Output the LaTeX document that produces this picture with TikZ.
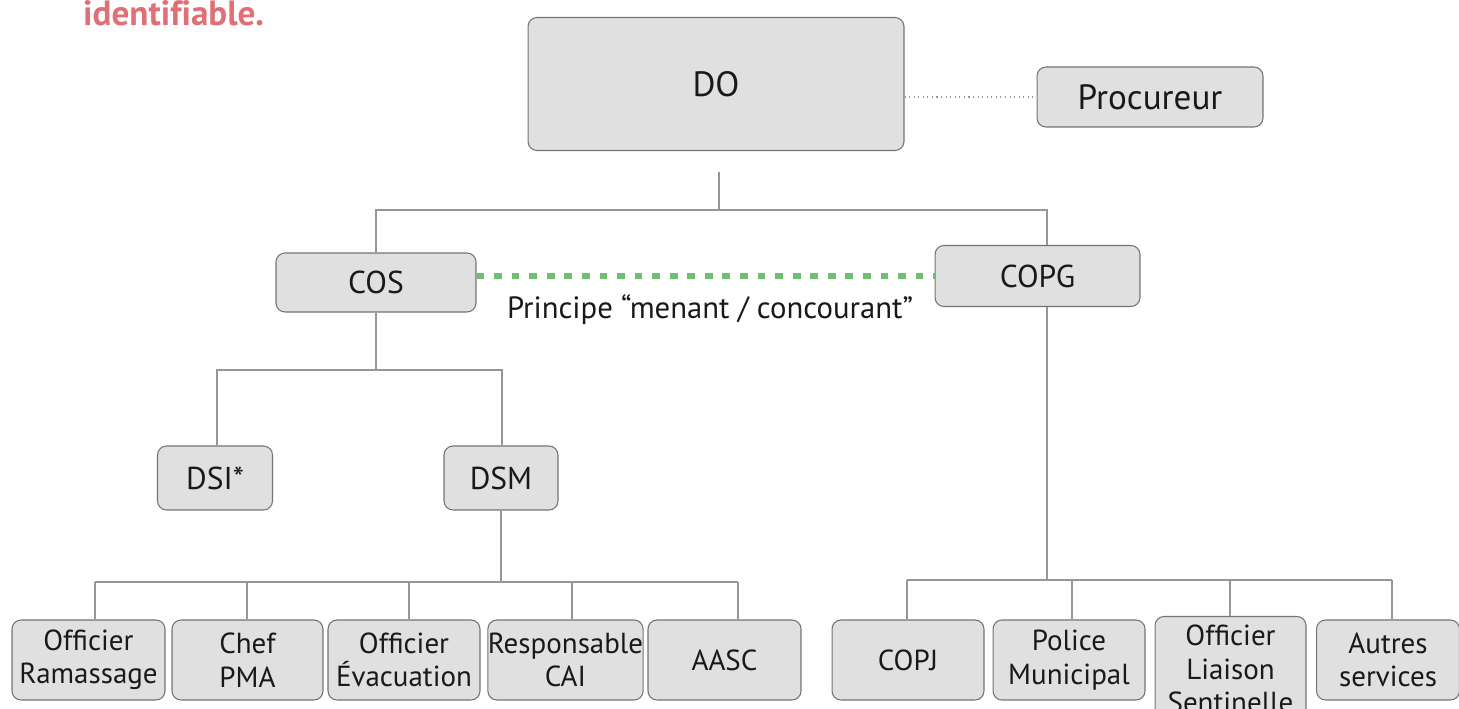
\documentclass[tikz,border=0pt]{standalone}
\usepackage{fontspec}
\setmainfont{PT Sans}
\usetikzlibrary{calc}
\definecolor{boxfill}{RGB}{224,224,224}
\definecolor{boxline}{RGB}{115,115,115}
\definecolor{linkgray}{RGB}{150,150,150}
\definecolor{menant}{RGB}{112,190,112}
\definecolor{titlered}{RGB}{224,112,118}
\begin{document}
\begin{tikzpicture}[x=0.02cm,y=-0.02cm,
  box/.style={draw=boxline,fill=boxfill,line width=0.6pt,rounded corners=0.18cm,
    align=center,inner sep=0pt,font=\fontsize{16.5}{19}\selectfont},
  topfont/.style={font=\fontsize{20}{22}\selectfont},
  midfont/.style={font=\fontsize{18}{20}\selectfont},
  link/.style={draw=linkgray,line width=0.6pt},
  every node/.style={text=black!90}]
\useasboundingbox (0,0) rectangle (1459,709);
\clip (0,0) rectangle (1459,709);

% heading fragment
\node[anchor=base west,text=titlered,
  font=\fontsize{20}{22}\selectfont\bfseries\addfontfeatures{Ligatures=NoCommon}] (head) at (77,26) {identifiable.};

% top level
\node[box,topfont,minimum width=7.52cm,minimum height=2.66cm] (DO) at (716,84) {DO};
\node[box,topfont,minimum width=4.52cm,minimum height=1.2cm] (PR) at (1150,97) {Procureur};
\draw[link,dotted] (DO.east |- PR.west) -- (PR.west);

% commanders
\node[box,midfont,minimum width=4.0cm,minimum height=1.18cm] (COS) at (376,282.5) {COS};
\node[box,midfont,minimum width=4.1cm,minimum height=1.22cm] (COPG) at (1037.5,276) {COPG};

\coordinate (t0) at (719,172);
\coordinate (t1) at (719,210);
\coordinate (cx) at (1047,0);
\draw[link] (t0) -- (t1);
\draw[link] (COS.north) |- (t1) -| (COPG.north -| cx);

\coordinate (gl) at (0,276);
\draw[menant,line width=3.4pt,dash pattern=on 4.4pt off 5.6pt] (COS.east |- gl) -- (COPG.west |- gl);
\node[font=\fontsize{17.5}{20}\selectfont] (lab) at (710,310) {Principe “menant / concourant”};

% COS branch
\node[box,midfont,minimum width=2.3cm,minimum height=1.28cm] (DSI) at (215,478) {DSI*};
\node[box,midfont,minimum width=2.28cm,minimum height=1.28cm] (DSM) at (501,478) {DSM};
\coordinate (s1) at (376,370);
\draw[link] (COS.south) -- (s1);
\draw[link] (DSI.north -| 217,0) |- (s1) -| (DSM.north -| 502,0);

% DSM children
\node[box,minimum width=3.06cm,minimum height=1.6cm] (r1) at (88.5,660) {Officier\\Ramassage};
\node[box,minimum width=3.02cm,minimum height=1.6cm] (r2) at (247.5,660) {Chef\\PMA};
\node[box,minimum width=3.04cm,minimum height=1.6cm] (r3) at (404,660) {Officier\\Évacuation};
\node[box,minimum width=3.02cm,minimum height=1.6cm] (r4) at (565.5,660) {Responsable\\CAI};
\node[box,minimum width=3.06cm,minimum height=1.6cm] (r5) at (724.5,660) {AASC};

\coordinate (m0) at (501,582);
\coordinate (b1) at (95,582);
\coordinate (b2) at (247,582);
\coordinate (b3) at (409,582);
\coordinate (b4) at (572,582);
\coordinate (b5) at (738,582);
\draw[link] (DSM.south) -- (m0);
\draw[link] (b1) -- (b5);
\draw[link] (b1) -- (b1 |- r1.north);
\draw[link] (b2) -- (b2 |- r2.north);
\draw[link] (b3) -- (b3 |- r3.north);
\draw[link] (b4) -- (b4 |- r4.north);
\draw[link] (b5) -- (b5 |- r5.north);

% COPG children
\node[box,minimum width=3.04cm,minimum height=1.6cm] (c1) at (908,660) {COPJ};
\node[box,minimum width=3.04cm,minimum height=1.6cm] (c2) at (1069,660) {Police\\Municipal};
\node[box,minimum width=3.02cm,minimum height=2.1cm,text depth=0pt] (c3) at (1230.5,669) {Officier\\Liaison\\Sentinelle};
\node[box,minimum width=2.86cm,minimum height=1.6cm] (c4) at (1388,660) {Autres\\services};

\coordinate (p0) at (1047,580);
\coordinate (q1) at (907,580);
\coordinate (q2) at (1072,580);
\coordinate (q3) at (1230,580);
\coordinate (q4) at (1392,580);
\draw[link] (COPG.south -| cx) -- (p0);
\draw[link] (q1) -- (q4);
\draw[link] (q1) -- (q1 |- c1.north);
\draw[link] (q2) -- (q2 |- c2.north);
\draw[link] (q3) -- (q3 |- c3.north);
\draw[link] (q4) -- (q4 |- c4.north);
\end{tikzpicture}
\end{document}
